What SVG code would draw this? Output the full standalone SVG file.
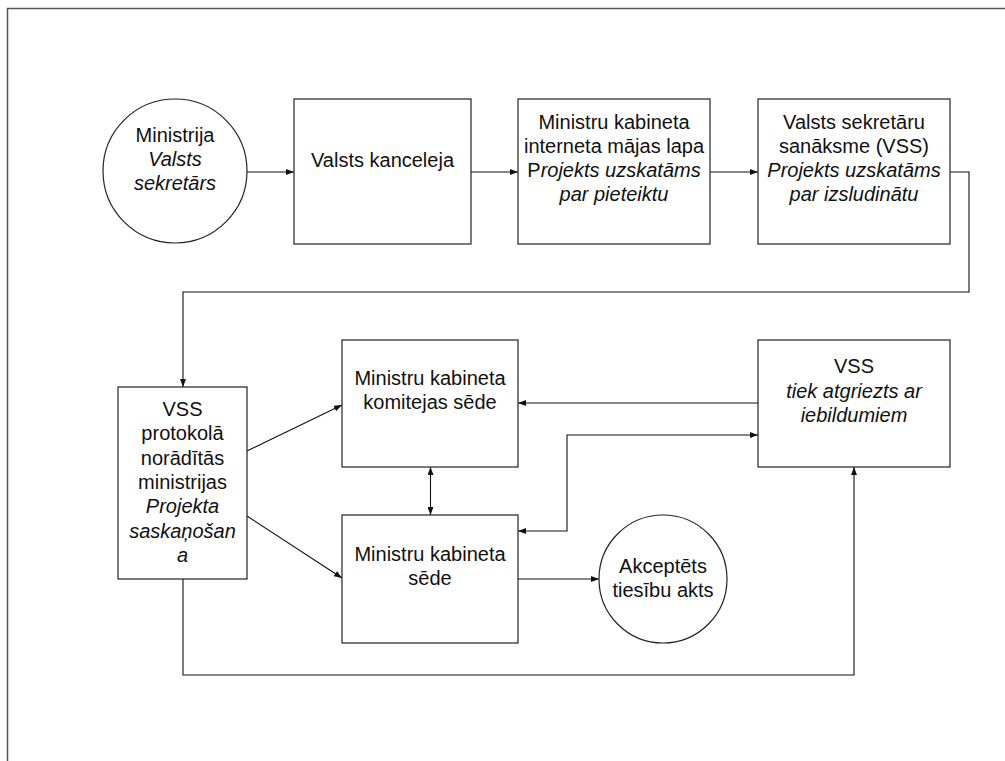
<svg xmlns="http://www.w3.org/2000/svg" width="1005" height="761" viewBox="0 0 1005 761">
<defs>
<style>
.node{fill:#fff;stroke:#222;stroke-width:1.2}
.t{font-family:"Liberation Sans",Arial,sans-serif;font-size:20px;fill:#111;text-anchor:middle}
.i{font-style:italic}
.c{fill:none;stroke:#111;stroke-width:1.1}
</style>
<marker id="ah" viewBox="0 0 8 6" refX="8" refY="3" markerWidth="8" markerHeight="6" markerUnits="userSpaceOnUse" orient="auto-start-reverse">
<path d="M0,0 L8,3 L0,6 z" fill="#111"/>
</marker>
</defs>
<rect width="1005" height="761" fill="#fff"/>
<path d="M7.5,761 V8.5 H1005" fill="none" stroke="#555" stroke-width="1.5"/>

<g id="connectors">
<path class="c" d="M247,172 H294" marker-end="url(#ah)"/>
<path class="c" d="M471,172 H518" marker-end="url(#ah)"/>
<path class="c" d="M710,172 H758" marker-end="url(#ah)"/>
<path class="c" d="M950,172 H969 V292 H183 V387" marker-end="url(#ah)"/>
<path class="c" d="M247,451 L342,405" marker-end="url(#ah)"/>
<path class="c" d="M247,516 L342,578" marker-end="url(#ah)"/>
<path class="c" d="M430.5,467 V515" marker-start="url(#ah)" marker-end="url(#ah)"/>
<path class="c" d="M758,403 H518" marker-end="url(#ah)"/>
<path class="c" d="M758,435 H567 V531 H518" marker-start="url(#ah)" marker-end="url(#ah)"/>
<path class="c" d="M518,579 H599" marker-end="url(#ah)"/>
<path class="c" d="M183,579 V675 H854 V467" marker-end="url(#ah)"/>
</g>

<g id="ministrija">
<circle class="node" cx="175" cy="171" r="72"/>
<text class="t" x="175" y="142">Ministrija</text>
<text class="t i" x="175" y="166">Valsts</text>
<text class="t i" x="175" y="190">sekretārs</text>
</g>

<g id="kanceleja">
<rect class="node" x="294" y="99" width="177" height="145"/>
<text class="t" x="382.5" y="167">Valsts kanceleja</text>
</g>

<g id="majaslapa">
<rect class="node" x="518" y="99" width="192" height="145"/>
<text class="t" x="614" y="129">Ministru kabineta</text>
<text class="t" x="614" y="153">interneta mājas lapa</text>
<text class="t" x="614" y="177">P<tspan class="i">rojekts uzskatāms</tspan></text>
<text class="t i" x="614" y="201">par pieteiktu</text>
</g>

<g id="vss-sanaksme">
<rect class="node" x="758" y="99" width="192" height="145"/>
<text class="t" x="854" y="129">Valsts sekretāru</text>
<text class="t" x="854" y="153">sanāksme (VSS)</text>
<text class="t i" x="854" y="177">Projekts uzskatāms</text>
<text class="t i" x="854" y="201">par izsludinātu</text>
</g>

<g id="vss-protokols">
<rect class="node" x="118" y="387" width="129" height="192"/>
<text class="t" x="182.5" y="416">VSS</text>
<text class="t" x="182.5" y="440">protokolā</text>
<text class="t" x="182.5" y="464.5">norādītās</text>
<text class="t" x="182.5" y="489">ministrijas</text>
<text class="t i" x="182.5" y="513">Projekta</text>
<text class="t i" x="182.5" y="537.5">saskaņošan</text>
<text class="t i" x="182.5" y="562">a</text>
</g>

<g id="komiteja">
<rect class="node" x="342" y="340" width="176" height="127"/>
<text class="t" x="430" y="385">Ministru kabineta</text>
<text class="t" x="430" y="409">komitejas sēde</text>
</g>

<g id="mk-sede">
<rect class="node" x="342" y="515" width="176" height="128"/>
<text class="t" x="430" y="561">Ministru kabineta</text>
<text class="t" x="430" y="585">sēde</text>
</g>

<g id="akceptets">
<circle class="node" cx="663" cy="579" r="64"/>
<text class="t" x="663" y="573">Akceptēts</text>
<text class="t" x="663" y="597">tiesību akts</text>
</g>

<g id="vss-atgriezts">
<rect class="node" x="758" y="340" width="192" height="127"/>
<text class="t" x="854" y="373">VSS</text>
<text class="t i" x="854" y="398">tiek atgriezts ar</text>
<text class="t i" x="854" y="422">iebildumiem</text>
</g>
</svg>
